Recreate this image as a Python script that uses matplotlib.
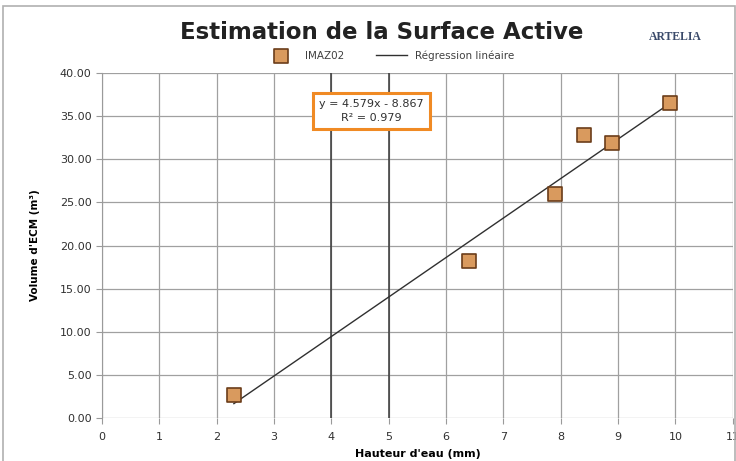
import numpy as np
import matplotlib
matplotlib.use("Agg")
import matplotlib.pyplot as plt
from matplotlib.patches import Rectangle

# measured points (water height mm, ECM volume m3)
hauteur = [2.3, 6.4, 7.9, 8.4, 8.9, 9.9]
volume = [2.7, 18.2, 26.0, 32.8, 31.9, 36.5]

slope = 4.579
intercept = -8.867
r2 = 0.979

x_ticks = list(range(0, 12))
y_ticks = [0, 5, 10, 15, 20, 25, 30, 35, 40]

fig = plt.figure(figsize=(7.36, 4.61), dpi=100)
fig.patch.set_facecolor("white")
fig.patches.append(Rectangle((0.004, -0.01), 0.994, 0.998, transform=fig.transFigure,
                             fill=False, edgecolor="#b0b0b0", linewidth=1.2))

ax = fig.add_axes([0.1386, 0.0933, 0.857, 0.7483])

ax.set_xlim(0, 11)
ax.set_ylim(0, 40)
ax.set_xticks(x_ticks)
ax.set_yticks(y_ticks)
ax.set_yticklabels([f"{v:.2f}" for v in y_ticks])
ax.grid(True, color="#a0a0a0", linewidth=0.9, zorder=0)
ax.set_axisbelow(True)
for xv in (4, 5):
    ax.axvline(xv, color="#383838", linewidth=1.1, zorder=2)
ax.tick_params(axis="both", labelsize=8, colors="#303030", length=4, color="#9a9a9a")
ax.tick_params(axis="x", pad=6)
for s in ax.spines.values():
    s.set_visible(False)
ax.spines["left"].set_visible(True)
ax.spines["left"].set_color("#9a9a9a")

xl = np.array([min(hauteur), max(hauteur)])
ax.plot(xl, slope * xl + intercept, color="#303030", linewidth=1.0,
        label="Régression linéaire", zorder=3)
ax.scatter(hauteur, volume, marker="s", s=90, facecolor="#d99a5e",
           edgecolor="#6b3d1a", linewidth=1.2, label="IMAZ02", zorder=4)

ax.text(4.7, 35.6, f"y = {slope}x - {-intercept}\nR² = {r2}",
        ha="center", va="center", fontsize=8, color="#303030", linespacing=1.45,
        bbox=dict(boxstyle="square,pad=0.55", facecolor="white",
                  edgecolor="#f08a24", linewidth=2.2), zorder=5)

ax.set_xlabel("Hauteur d'eau (mm)", fontsize=8, fontweight="bold", labelpad=5)
ax.set_ylabel("Volume d'ECM (m³)", fontsize=7.5, fontweight="bold", labelpad=14)

fig.text(0.518, 0.93, "Estimation de la Surface Active", ha="center", va="center",
         fontsize=16.5, fontweight="bold", color="#222222")
fig.text(0.918, 0.92, "ARTELIA", ha="center", va="center", fontsize=8.5,
         fontweight="bold", color="#3a4a6a", family="Liberation Serif")

handles, labels = ax.get_legend_handles_labels()
leg = fig.legend(handles[::-1], labels[::-1], loc="center",
                 bbox_to_anchor=(0.53, 0.88), ncol=2, frameon=False,
                 fontsize=7.5, handlelength=3, columnspacing=3.0)
for t in leg.get_texts():
    t.set_color("#404040")

fig.savefig("out.png", dpi=100)
